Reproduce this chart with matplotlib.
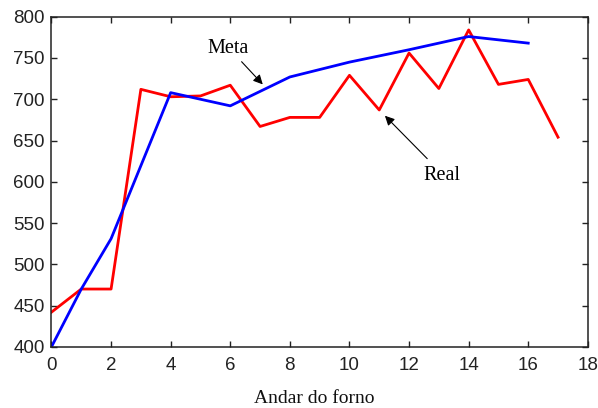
import matplotlib.pyplot as plt

# Temperatura por andar do forno
andar_real = [0, 1, 2, 3, 4, 5, 6, 7, 8, 9, 10, 11, 12, 13, 14, 15, 16, 17]
real = [442, 470, 470, 712, 703, 704, 717, 667, 678, 678, 729, 687, 756, 713, 784, 718, 724, 654]

andar_meta = [0, 1, 2, 4, 6, 8, 10, 12, 14, 16]
meta = [400, 470, 531, 708, 692, 727, 745, 760, 776, 768]

xticks = list(range(0, 19, 2))
yticks = list(range(400, 801, 50))

fig = plt.figure(figsize=(5.98, 4.08), dpi=100)
ax = fig.add_axes([0.0861, 0.150, 0.8969, 0.809])

ax.plot(andar_real, real, color='#ff0000', lw=2)
ax.plot(andar_meta, meta, color='#0000ff', lw=2)

ax.set_xlim(0, 18)
ax.set_ylim(400, 800)
ax.set_xticks(xticks)
ax.set_yticks(yticks)

tick_font = {'family': 'Liberation Sans', 'size': 13.5}
ax.set_xticklabels([str(t) for t in xticks], fontdict=tick_font, color='#222222')
ax.set_yticklabels([str(t) for t in yticks], fontdict=tick_font, color='#222222')
ax.tick_params(direction='in', length=4, width=1, color='#222222',
               top=True, right=True)
ax.tick_params(axis='x', pad=7)
ax.tick_params(axis='y', pad=5)
for s in ax.spines.values():
    s.set_color('#222222')
    s.set_linewidth(1.1)

ax.set_xlabel('Andar do forno', family='Liberation Serif', fontsize=14,
              color='#111111')
ax.xaxis.set_label_coords(0.49, -0.132)

arrow = dict(arrowstyle='-|>', color='black', lw=0.8, mutation_scale=14,
             shrinkA=0, shrinkB=0)
ax.annotate('', xy=(7.09, 718), xytext=(6.38, 745.5), arrowprops=arrow)
ax.text(5.93, 761, 'Meta', family='Liberation Serif', fontsize=14.5,
        ha='center', va='center')
ax.annotate('', xy=(11.19, 680), xytext=(12.61, 628), arrowprops=arrow)
ax.text(13.09, 607, 'Real', family='Liberation Serif', fontsize=14.5,
        ha='center', va='center')

fig.savefig('out.png', dpi=100)
